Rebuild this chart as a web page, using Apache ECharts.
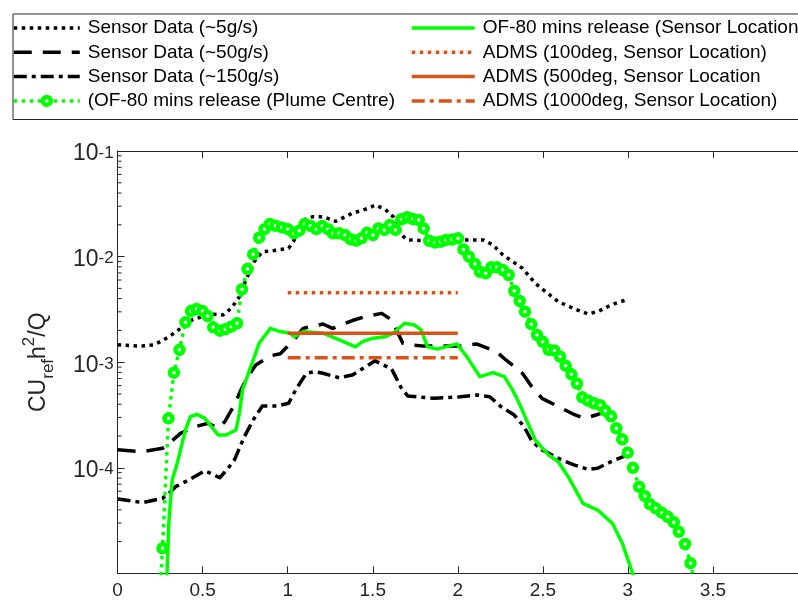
<!DOCTYPE html>
<html>
<head>
<meta charset="utf-8">
<script src="https://cdn.jsdelivr.net/npm/echarts@6/dist/echarts.min.js"></script>
<style>
html,body{margin:0;padding:0;background:#fff;}
#chart{width:798px;height:605px;}
</style>
</head>
<body>
<div id="chart"></div>
<script>
// ---------------- data ----------------
const names = [
  'Sensor Data (~5g/s)',
  'Sensor Data (~50g/s)',
  'Sensor Data (~150g/s)',
  '(OF-80 mins release (Plume Centre)',
  'OF-80 mins release (Sensor Location',
  'ADMS (100deg, Sensor Location)',
  'ADMS (500deg, Sensor Location',
  'ADMS (1000deg, Sensor Location)'
];

const s5X = [0, 0.129, 0.216, 0.302, 0.370, 0.437, 0.485, 0.552, 0.620, 0.668, 0.716, 0.754, 0.803, 0.851, 0.918, 1.005, 1.033, 1.091, 1.149, 1.207, 1.283, 1.380, 1.475, 1.514, 1.572, 1.620, 1.668, 1.706, 1.803, 1.957, 2.053, 2.149, 2.207, 2.264, 2.380, 2.456, 2.553, 2.591, 2.678, 2.765, 2.822, 2.909, 2.999];
const s5Y = [1.46e-3, 1.42e-3, 1.46e-3, 1.74e-3, 2.09e-3, 2.51e-3, 2.66e-3, 2.86e-3, 2.80e-3, 3.24e-3, 4.17e-3, 6.0e-3, 8.95e-3, 1.11e-2, 1.14e-2, 1.20e-2, 1.38e-2, 2.22e-2, 2.39e-2, 2.39e-2, 2.16e-2, 2.57e-2, 2.87e-2, 3.08e-2, 2.81e-2, 2.39e-2, 1.60e-2, 1.44e-2, 1.42e-2, 1.38e-2, 1.44e-2, 1.44e-2, 1.29e-2, 1.04e-2, 7.75e-3, 5.58e-3, 4.17e-3, 3.74e-3, 3.24e-3, 2.86e-3, 3.01e-3, 3.53e-3, 3.94e-3];

const s50X = [0, 0.148, 0.264, 0.293, 0.370, 0.456, 0.533, 0.591, 0.630, 0.687, 0.725, 0.754, 0.812, 0.898, 0.956, 1.033, 1.091, 1.207, 1.264, 1.380, 1.456, 1.553, 1.611, 1.677, 1.726, 1.803, 2.014, 2.110, 2.226, 2.283, 2.380, 2.428, 2.495, 2.572, 2.678, 2.745, 2.812, 2.889, 2.938];
const s50Y = [1.48e-4, 1.42e-4, 1.53e-4, 1.65e-4, 2.12e-4, 2.45e-4, 2.64e-4, 2.37e-4, 2.73e-4, 3.94e-4, 5.46e-4, 6.78e-4, 9.40e-4, 1.15e-3, 1.20e-3, 1.60e-3, 2.09e-3, 2.30e-3, 2.09e-3, 2.48e-3, 2.70e-3, 2.90e-3, 2.51e-3, 1.51e-3, 1.46e-3, 1.42e-3, 1.42e-3, 1.49e-3, 1.26e-3, 1.05e-3, 7.85e-4, 6.08e-4, 4.55e-4, 3.94e-4, 3.23e-4, 2.94e-4, 3.16e-4, 3.52e-4, 3.85e-4];

const s150X = [0, 0.148, 0.264, 0.302, 0.341, 0.418, 0.514, 0.601, 0.649, 0.687, 0.745, 0.803, 0.851, 0.937, 1.005, 1.053, 1.110, 1.156, 1.207, 1.302, 1.380, 1.514, 1.543, 1.611, 1.668, 1.706, 1.860, 2.014, 2.110, 2.188, 2.254, 2.332, 2.390, 2.437, 2.495, 2.610, 2.687, 2.765, 2.822, 2.899, 2.995];
const s150Y = [5.07e-5, 4.68e-5, 5.14e-5, 5.74e-5, 6.63e-5, 7.66e-5, 9.38e-5, 8.05e-5, 9.88e-5, 1.19e-4, 1.97e-4, 2.94e-4, 3.85e-4, 3.85e-4, 4.08e-4, 5.70e-4, 7.85e-4, 8.13e-4, 7.85e-4, 7.13e-4, 7.56e-4, 1.03e-3, 9.77e-4, 8.63e-4, 5.70e-4, 4.79e-4, 4.55e-4, 4.71e-4, 4.89e-4, 4.71e-4, 3.79e-4, 3.16e-4, 2.45e-4, 1.77e-4, 1.48e-4, 1.19e-4, 1.06e-4, 9.68e-5, 9.89e-5, 1.14e-4, 1.32e-4];

const plumeX = [0.232, 0.264, 0.299, 0.331, 0.364, 0.399, 0.432, 0.464, 0.499, 0.529, 0.562, 0.601, 0.633, 0.668, 0.702, 0.731, 0.764, 0.797, 0.832, 0.864, 0.895, 0.927, 0.966, 1.001, 1.037, 1.068, 1.100, 1.133, 1.168, 1.203, 1.237, 1.266, 1.302, 1.337, 1.370, 1.403, 1.433, 1.466, 1.501, 1.533, 1.568, 1.601, 1.634, 1.668, 1.703, 1.735, 1.770, 1.799, 1.832, 1.866, 1.899, 1.931, 1.966, 2.001, 2.033, 2.066, 2.101, 2.130, 2.164, 2.197, 2.230, 2.264, 2.299, 2.332, 2.364, 2.395, 2.432, 2.466, 2.499, 2.534, 2.568, 2.601, 2.634, 2.668, 2.701, 2.732, 2.766, 2.801, 2.837, 2.867, 2.901, 2.932, 2.967, 2.999, 3.030, 3.066, 3.099, 3.130, 3.164, 3.199, 3.234, 3.270, 3.299, 3.336, 3.368, 3.401];
const plumeY = [2e-6, 1.73e-5, 2.94e-4, 7.96e-4, 1.31e-3, 2.39e-3, 3.05e-3, 3.19e-3, 3.05e-3, 2.74e-3, 2.14e-3, 1.99e-3, 2.05e-3, 2.17e-3, 2.34e-3, 4.90e-3, 7.63e-3, 1.05e-2, 1.51e-2, 1.82e-2, 2.04e-2, 1.96e-2, 1.89e-2, 1.82e-2, 1.66e-2, 1.76e-2, 2.04e-2, 1.96e-2, 1.82e-2, 1.95e-2, 1.82e-2, 1.66e-2, 1.66e-2, 1.60e-2, 1.46e-2, 1.42e-2, 1.49e-2, 1.68e-2, 1.60e-2, 1.85e-2, 1.79e-2, 1.99e-2, 1.79e-2, 2.26e-2, 2.36e-2, 2.27e-2, 2.22e-2, 1.85e-2, 1.41e-2, 1.36e-2, 1.38e-2, 1.44e-2, 1.45e-2, 1.49e-2, 1.17e-2, 9.98e-3, 8.51e-3, 7.19e-3, 6.95e-3, 7.92e-3, 7.92e-3, 7.46e-3, 6.70e-3, 4.72e-3, 3.80e-3, 3.01e-3, 2.29e-3, 1.81e-3, 1.56e-3, 1.31e-3, 1.29e-3, 1.13e-3, 9.27e-4, 7.68e-4, 6.29e-4, 4.65e-4, 4.34e-4, 4.08e-4, 3.92e-4, 3.47e-4, 3.07e-4, 2.37e-4, 1.86e-4, 1.39e-4, 1.00e-4, 6.62e-5, 5.41e-5, 4.51e-5, 4.13e-5, 3.76e-5, 3.44e-5, 3.05e-5, 2.48e-5, 1.90e-5, 1.25e-5, 7e-6];

const sensLocX = [0.278, 0.302, 0.321, 0.350, 0.399, 0.428, 0.466, 0.514, 0.552, 0.591, 0.639, 0.696, 0.716, 0.735, 0.783, 0.832, 0.898, 0.956, 1.014, 1.041, 1.091, 1.207, 1.283, 1.399, 1.437, 1.495, 1.572, 1.620, 1.687, 1.745, 1.784, 1.822, 1.879, 1.995, 2.053, 2.130, 2.207, 2.274, 2.322, 2.361, 2.456, 2.534, 2.591, 2.649, 2.736, 2.822, 2.909, 2.967, 3.061];
const sensLocY = [3e-6, 3.20e-5, 7.66e-5, 1.10e-4, 2.28e-4, 3.05e-4, 3.21e-4, 2.94e-4, 2.45e-4, 2.05e-4, 2.05e-4, 2.28e-4, 3.28e-4, 5.54e-4, 9.06e-4, 1.51e-3, 2.09e-3, 1.95e-3, 1.88e-3, 1.74e-3, 1.95e-3, 1.88e-3, 1.68e-3, 1.40e-3, 1.56e-3, 1.68e-3, 1.74e-3, 1.88e-3, 2.34e-3, 2.25e-3, 2.02e-3, 1.40e-3, 1.33e-3, 1.49e-3, 1.13e-3, 7.29e-4, 7.96e-4, 7.29e-4, 5.46e-4, 4.08e-4, 1.83e-4, 1.32e-4, 1.14e-4, 8.24e-5, 4.61e-5, 3.98e-5, 2.98e-5, 1.93e-5, 7e-6];

const admsX = [1, 2];
const adms100Y = [4.55e-3, 4.55e-3];
const adms500Y = [1.88e-3, 1.88e-3];
const adms1000Y = [1.10e-3, 1.10e-3];

const xTicks = {min: 0, max: 4, interval: 0.5};
const yRange = {min: 1e-5, max: 1e-1};

// ---------------- chart ----------------
const FONT = '"Liberation Sans", Arial, Helvetica, sans-serif';
const AX = '#262626';
const GREEN = '#00ff00';
const ORANGE = '#D95319';
const zip = (xs, ys) => xs.map((x, i) => [x, ys[i]]);

function lineSeries(name, xs, ys, color, type, width, extra) {
  return Object.assign({
    name: name,
    type: 'line',
    data: zip(xs, ys),
    showSymbol: false,
    symbol: 'none',
    clip: true,
    animation: false,
    silent: true,
    lineStyle: {color: color, width: width, type: type, cap: 'butt', join: 'round'},
    itemStyle: {color: color}
  }, extra || {});
}

const minorTicks = [];
for (let e = -5; e < -1; e++) {
  for (let k = 2; k <= 9; k++) minorTicks.push([0, k * Math.pow(10, e)]);
}

const series = [
  lineSeries(names[0], s5X, s5Y, '#000', [3.5, 4.5], 3.5),
  lineSeries(names[1], s50X, s50Y, '#000', [18, 11], 3.5),
  lineSeries(names[2], s150X, s150Y, '#000', [13, 5, 4, 5], 3.5),
  lineSeries(names[3], plumeX, plumeY, GREEN, [3.5, 4.5], 3.5, {
    showSymbol: true, symbol: 'circle', symbolSize: 8,
    itemStyle: {color: '#ffffff', borderColor: GREEN, borderWidth: 4.5}
  }),
  lineSeries(names[4], sensLocX, sensLocY, GREEN, 'solid', 3.5),
  lineSeries(names[5], admsX, adms100Y, ORANGE, [3.5, 4.5], 3.5),
  lineSeries(names[6], admsX, adms500Y, ORANGE, 'solid', 3.5),
  lineSeries(names[7], admsX, adms1000Y, ORANGE, [13, 5, 4, 5], 3.5),
  {
    type: 'custom', silent: true, animation: false, clip: false, z: 5,
    data: minorTicks,
    renderItem: function (params, api) {
      const p = api.coord([api.value(0), api.value(1)]);
      return {type: 'line', shape: {x1: p[0], y1: p[1], x2: p[0] + 4, y2: p[1]},
        style: {stroke: AX, lineWidth: 1}};
    }
  }
];

const noMarker = {opacity: 0, color: 'rgba(0,0,0,0)', borderWidth: 0};
const legendData = names.map(function (n, i) {
  if (i === 3) {
    return {name: n, itemStyle: {color: '#ffffff', borderColor: GREEN, borderWidth: 4.5, opacity: 1}};
  }
  return {name: n, itemStyle: noMarker};
});

const legendCommon = {
  orient: 'vertical',
  top: 18,
  padding: 0,
  itemHeight: 10,
  itemGap: 4.3,
  selectedMode: false,
  textStyle: {fontFamily: FONT, fontSize: 19, lineHeight: 20, color: '#000', padding: [0, 0, 0, 3]},
  lineStyle: {width: 3.5}
};

const option = {
  animation: false,
  backgroundColor: '#fff',
  grid: {left: 117.6, top: 151, width: 693.3, height: 422.4, containLabel: false},
  legend: [
    Object.assign({}, legendCommon, {left: 12, itemWidth: 66, data: legendData.slice(0, 4)}),
    Object.assign({}, legendCommon, {left: 410, itemWidth: 63, data: legendData.slice(4)})
  ],
  graphic: [{
    type: 'rect', left: 10.5, top: 11.5, silent: true,
    shape: {width: 800, height: 105.5},
    style: {fill: 'none', stroke: AX, lineWidth: 1}
  }],
  xAxis: [{
    type: 'value', position: 'bottom', min: xTicks.min, max: xTicks.max, interval: xTicks.interval,
    axisLine: {show: true, onZero: false, lineStyle: {color: AX, width: 1}},
    axisTick: {show: true, inside: true, length: 7, lineStyle: {color: AX}},
    axisLabel: {show: true, margin: 8, fontFamily: FONT, fontSize: 19, color: AX, showMaxLabel: false},
    splitLine: {show: false}
  }, {
    type: 'value', position: 'top', min: xTicks.min, max: xTicks.max, interval: xTicks.interval,
    axisLine: {show: true, onZero: false, lineStyle: {color: AX, width: 1}},
    axisTick: {show: true, inside: true, length: 7, lineStyle: {color: AX}},
    axisLabel: {show: false},
    splitLine: {show: false}
  }],
  yAxis: [{
    type: 'log', logBase: 10, min: yRange.min, max: yRange.max,
    axisLine: {show: true, lineStyle: {color: AX, width: 1}},
    axisTick: {show: true, inside: true, length: 7, lineStyle: {color: AX}},
    splitLine: {show: false},
    minorTick: {show: false},
    axisLabel: {
      show: true, margin: 4, showMinLabel: false, padding: [8, 0, 0, 0],
      formatter: function (v) {
        const e = Math.round(Math.log10(v));
        return '{b|10}{s|' + e + '}';
      },
      rich: {
        b: {fontFamily: FONT, fontSize: 23, lineHeight: 21, color: AX, verticalAlign: 'bottom', padding: [4, 0, 0, 0]},
        s: {fontFamily: FONT, fontSize: 17, lineHeight: 15, color: AX, verticalAlign: 'top'}
      }
    },
    name: '{m|CU}{sub|ref}{m|h}{sup|2}{m|/Q}',
    nameLocation: 'middle',
    nameGap: 61,
    nameTextStyle: {
      rich: {
        m: {fontFamily: FONT, fontSize: 23, lineHeight: 36, color: AX, verticalAlign: 'middle'},
        sub: {fontFamily: FONT, fontSize: 17, lineHeight: 16, color: AX, verticalAlign: 'bottom'},
        sup: {fontFamily: FONT, fontSize: 17, lineHeight: 16, color: AX, verticalAlign: 'top'}
      }
    }
  }],
  series: series
};

const chart = echarts.init(document.getElementById('chart'), null, {renderer: 'canvas'});
chart.setOption(option);
</script>
</body>
</html>
